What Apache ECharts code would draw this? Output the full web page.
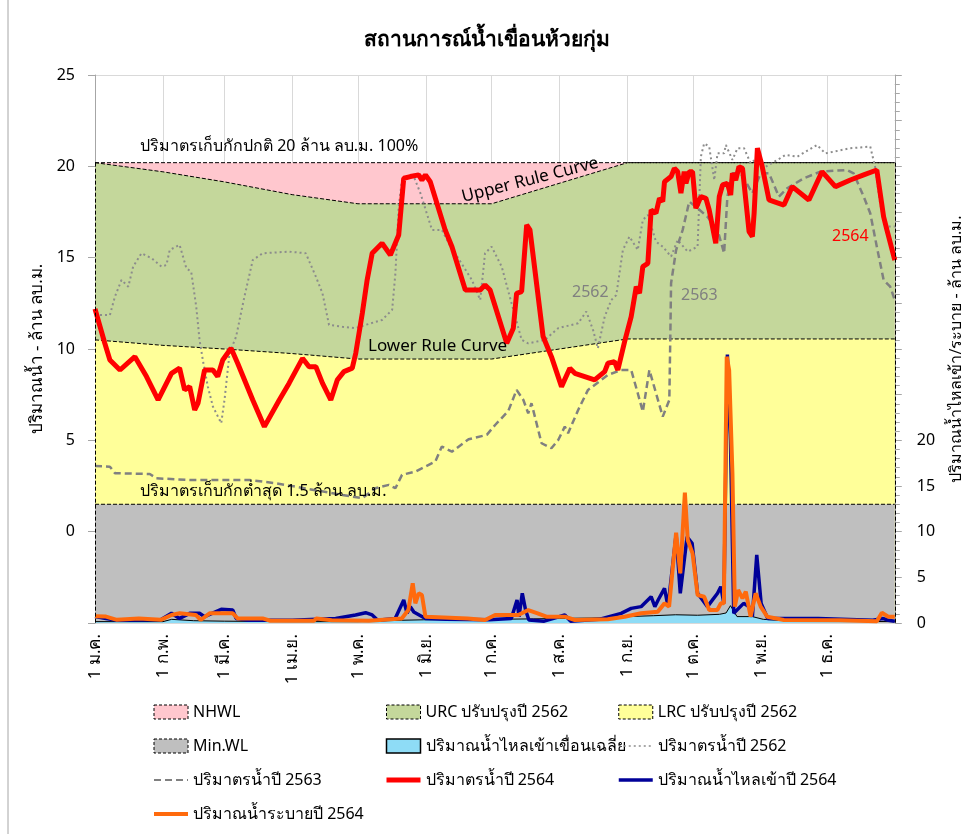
<!DOCTYPE html>
<html>
<head>
<meta charset="utf-8">
<title>สถานการณ์น้ำเขื่อนห้วยกุ่ม</title>
<script src="https://cdn.jsdelivr.net/npm/echarts@6.0.0/dist/echarts.min.js"></script>
<style>
  html, body { margin: 0; padding: 0; background: #fff; }
  #graph { width: 974px; height: 834px; }
</style>
</head>
<body>
<div id="graph"></div>
<script>
// day of year (2564 = 2021) for the month ticks
var monthDays = [0, 31, 59, 90, 120, 151, 181, 212, 243, 273, 304, 334, 365];
var monthLabels = ['1 ม.ค.', '1 ก.พ.', '1 มี.ค.', '1 เม.ย.', '1 พ.ค.', '1 มิ.ย.', '1 ก.ค.',
  '1 ส.ค.', '1 ก.ย.', '1 ต.ค.', '1 พ.ย.', '1 ธ.ค.', ''];

// rule curves, million m3  [day, value]
var nhwl = [[0, 20.2], [365, 20.2]];
var urc = [[0, 20.2], [31, 19.7], [59, 19.15], [90, 18.45], [120, 17.95], [151, 17.95],
  [181, 17.95], [243, 20.2], [365, 20.2]];
var lrc = [[0, 10.5], [31, 10.2], [59, 10.0], [90, 9.75], [120, 9.45], [151, 9.45],
  [181, 9.45], [243, 10.55], [365, 10.55]];
var minWL = [[0, 1.5], [365, 1.5]];

// storage, million m3
var storage2562 = [[0, 11.86], [6.8, 11.86], [9.1, 12.87], [12.1, 13.78], [15.2, 13.41], [17.4, 14.51],
  [21.2, 15.24], [25.8, 14.97], [30.3, 14.51], [32.6, 14.6], [34.1, 15.42], [38.6, 15.7], [41.7, 14.42],
  [43.9, 14.23], [46.2, 12.32], [47.7, 10.5], [49.2, 9.4], [51.5, 7.94], [53.8, 6.85], [57.6, 5.94],
  [59.1, 7.21], [61.4, 9.77], [64.4, 10.68], [68.2, 12.87], [72, 14.87], [76.5, 15.24], [88.6, 15.33],
  [96.2, 15.24], [100.8, 13.96], [103.8, 13.05], [106.8, 11.32], [112.9, 11.22], [118.9, 11.14],
  [123.5, 11.32], [131, 11.59], [135.6, 12.14], [137.1, 14.15], [138.6, 17.79], [140.1, 19.25],
  [145.5, 19.44], [148.5, 18.53], [153.8, 16.52], [158.3, 16.52], [161.4, 15.79], [168.2, 14.51],
  [172, 13.78], [175.8, 12.68], [178, 15.24], [181, 15.6], [185.6, 14.51], [190.1, 12.5], [194.7, 10.5],
  [197.7, 10.31], [205.3, 10.5], [211.4, 11.14], [220.5, 11.41], [224.2, 12.05], [227.3, 11.04],
  [229.5, 10.04], [232.6, 11.77], [235.6, 12.68], [237.9, 12.95], [240.9, 15.42], [243.9, 16.15],
  [247.7, 15.42], [250, 17.06], [252.3, 17.34], [256, 15.88], [259.1, 15.6], [262.9, 15.06],
  [265.9, 15.97], [270.5, 15.33], [275, 15.6], [276.5, 20.53], [278, 21.26], [280.3, 21.08],
  [282.6, 19.25], [284.1, 20.71], [287.1, 20.71], [287.9, 21.17], [290.9, 20.35], [293.2, 20.99],
  [296.2, 20.99], [299.2, 20.17], [303, 20.53], [306, 19.98], [311.4, 20.35], [315.1, 20.62],
  [320.5, 20.53], [329.5, 21.17], [333.3, 20.71], [344.7, 20.99], [353.8, 21.08], [356, 19.98],
  [358.3, 17.97], [360.6, 16.7], [365, 16.7]];

var storage2563 = [[0, 3.6], [6.8, 3.56], [9.1, 3.2], [25, 3.16], [28, 2.92], [43.2, 2.83], [70.5, 2.83],
  [82.6, 2.65], [112.9, 2.01], [122, 1.83], [128, 2.38], [134.1, 2.56], [137.1, 2.38], [140.1, 3.11],
  [146.2, 3.29], [155.3, 3.84], [158.3, 4.66], [162.9, 4.38], [170.5, 5.06], [178.8, 5.3], [182.6, 5.84],
  [188.6, 6.6], [192.4, 7.76], [195.5, 7.21], [197.7, 6.48], [199.2, 7.03], [203.8, 4.84], [208.3, 4.57],
  [211.4, 5.02], [214.4, 5.75], [215.9, 5.39], [220.5, 6.66], [225, 7.76], [234.1, 8.58], [240.1, 8.85],
  [244.7, 8.85], [247.7, 7.58], [250, 6.57], [253, 8.85], [259.1, 6.3], [262.1, 7.21], [262.6, 11.04],
  [262.9, 13.6], [265.2, 15.42], [268.2, 16.52], [271.2, 18.07], [274.2, 17.79], [279.5, 17.24],
  [284.1, 16.52], [287.1, 15.24], [288.6, 18.34], [290.9, 19.62], [294.7, 19.62], [300, 18.53],
  [303.8, 19.62], [307.6, 19.62], [312.1, 18.34], [315.9, 18.8], [323.5, 19.35], [331.1, 19.71],
  [343.2, 19.8], [346.2, 19.62], [350.8, 18.34], [353.8, 17.43], [356.8, 15.6], [359.9, 13.78],
  [362.9, 13.41], [365, 12.68]];

var storage2564 = [[0, 12.2], [4.5, 10.3], [6.8, 9.4], [11.4, 8.85], [18.2, 9.58], [23.5, 8.49], [28.8, 7.21],
  [34.9, 8.67], [38.6, 8.95], [40.9, 7.76], [43.2, 7.94], [45.5, 6.66], [47, 7.03], [50, 8.85], [53.8, 8.85],
  [56, 8.49], [58.3, 9.4], [62.1, 10.04], [65.1, 9.22], [72, 7.21], [77.3, 5.75], [84.1, 7.21], [88.6, 8.13],
  [94.7, 9.49], [97.7, 9.03], [100.8, 9.03], [103.8, 8.13], [107.6, 7.21], [110.6, 8.31], [113.6, 8.76],
  [117.4, 8.95], [119, 9.77], [122, 11.96], [124.2, 13.78], [126.5, 15.24], [131, 15.79], [134.8, 15.15],
  [138.6, 16.24], [140.9, 19.35], [143.9, 19.44], [147.7, 19.53], [149.2, 19.25], [150.8, 19.53],
  [153, 19.16], [159.8, 16.52], [162.9, 15.6], [169, 13.23], [175.8, 13.23], [178, 13.51], [180.3, 13.23],
  [187.9, 10.31], [190.9, 11.14], [192.4, 13.05], [194.7, 13.14], [197, 16.79], [198.5, 16.52],
  [204.5, 10.68], [208.3, 9.58], [212.9, 7.94], [216.7, 8.95], [219, 8.67], [228, 8.31], [232.6, 8.76],
  [234.1, 9.22], [237.1, 9.31], [238.6, 8.85], [241.7, 10.4], [244.7, 11.77], [247, 13.41], [248.5, 13.05],
  [250, 14.51], [252.3, 14.69], [253.8, 17.61], [256, 17.43], [257.6, 18.25], [259.1, 18.07],
  [259.9, 19.16], [262.9, 19.44], [264.4, 19.89], [265.9, 19.71], [267.4, 18.53], [268.9, 19.71],
  [269.7, 19.07], [271.2, 19.71], [272.7, 19.71], [274.2, 17.7], [276.5, 18.34], [278.8, 18.25],
  [280.3, 17.61], [283.3, 15.79], [284.9, 18.34], [286.4, 18.98], [288.6, 19.07], [290.1, 18.43],
  [290.9, 19.62], [292.4, 19.25], [293.9, 19.98], [295.5, 19.89], [297, 18.16], [298.5, 16.42],
  [300, 16.15], [300.8, 17.43], [302.3, 20.99], [304.5, 19.98], [307.6, 18.16], [309.8, 18.07],
  [314.4, 17.88], [318.2, 18.89], [325.8, 18.16], [331.8, 19.71], [337.9, 18.89], [344.7, 19.25],
  [350.8, 19.53], [356.8, 19.8], [359.9, 17.24], [361.4, 16.52], [365, 14.87]];

// flows, right axis
var inflowAvg = [[0, 0.15], [31, 0.15], [35, 0.4], [45, 0.25], [59, 0.2], [90, 0.15], [120, 0.15],
  [140, 0.3], [150, 0.35], [181, 0.4], [200, 0.45], [212, 0.5], [230, 0.55], [243, 0.7], [255, 0.8],
  [265, 0.9], [275, 0.85], [285, 0.95], [288, 1.1], [290, 1.9], [293, 0.7], [300, 0.7], [305, 0.4],
  [315, 0.25], [334, 0.2], [365, 0.15]];

var inflow2564 = [[0, 0.7], [5, 0.5], [10, 0.3], [30, 0.35], [34.9, 1.06], [38.6, 0.5], [43.2, 1.06],
  [47.7, 1.06], [50, 0.69], [57.6, 1.5], [62.9, 1.42], [64.4, 0.5], [70, 0.3], [90, 0.3], [109.8, 0.5],
  [118.9, 0.88], [123.5, 1.13], [126.5, 0.88], [129, 0.3], [137, 0.5], [140.9, 2.52], [142.4, 1.06],
  [143.9, 1.79], [145.5, 1.2], [150.8, 0.5], [160, 0.4], [180, 0.35], [190, 0.5], [192.6, 2.52],
  [193.5, 0.69], [195, 3.25], [196.5, 1.42], [198, 0.33], [205, 0.2], [214.4, 0.88], [217, 0.2],
  [230, 0.4], [240.1, 1.06], [244.7, 1.6], [249.2, 1.79], [253.8, 2.88], [255.5, 1.79], [257, 2.52],
  [259.9, 3.8], [261.5, 1.79], [265.2, 9.7], [267.1, 3.25], [270.2, 9.45], [272.5, 8.73], [275, 3.25],
  [279.5, 1.79], [284.1, 3.25], [285.6, 3.98], [287, 2.15], [288.6, 29.4], [290, 20], [291.5, 1.06],
  [296, 2.15], [298.5, 1.79], [300, 0.69], [302, 7.45], [304, 2.15], [307, 0.5], [330, 0.5], [355, 0.3],
  [359.5, 0.5], [362, 0.3], [365, 0.2]];

var release2564 = [[0, 0.75], [5, 0.7], [10, 0.35], [20, 0.5], [30, 0.35], [34.9, 0.88], [38.6, 1.06],
  [46, 0.88], [48.2, 0.33], [52.3, 1.06], [62.9, 1.06], [65.1, 0.5], [76.5, 0.5], [80, 0.25], [100, 0.25],
  [101, 0.5], [108, 0.3], [125, 0.25], [140, 0.5], [143, 1.42], [145, 4.34], [146.2, 2.15], [147.7, 3.25],
  [149.2, 3.07], [150.8, 0.69], [170, 0.5], [178, 0.33], [182.6, 0.88], [190, 0.88], [193.2, 0.88],
  [197.7, 1.42], [202, 1.06], [206, 0.69], [214.4, 0.69], [219, 0.33], [234, 0.4], [241.7, 0.69],
  [249.2, 1.06], [256.8, 1.24], [259.9, 2.15], [262, 1.79], [265.2, 9.89], [267.1, 5.44], [269.2, 14.27],
  [270.5, 9.09], [272.7, 7.63], [275, 3.07], [278, 2.88], [280.3, 1.42], [284, 1.42], [285.6, 2.15],
  [287, 2.15], [288.3, 29.16], [289.4, 27.7], [290.9, 16.39], [292, 1.79], [293.5, 3.61], [295.5, 2.7],
  [297, 3.43], [299.2, 0.69], [301.5, 3.25], [303.8, 1.79], [306.8, 0.69], [314.4, 0.33], [340, 0.3],
  [356.8, 0.2], [359.1, 1.13], [362, 0.69], [365, 0.69]];

var FONT = 'Tahoma, "Noto Sans", sans-serif';

var dom = document.getElementById('graph');
var myChart = echarts.init(dom);

function areaSeries(name, data, fill) {
  return {
    name: name,
    type: 'line',
    data: data,
    symbol: 'none',
    yAxisIndex: 0,
    lineStyle: { color: '#000', width: 1, type: [4, 2] },
    itemStyle: { color: fill },
    areaStyle: { color: fill, opacity: 1, origin: 'start' }
  };
}

function rectLegend(name, fill) {
  return {
    name: name,
    icon: 'rect',
    itemStyle: { color: fill, borderColor: '#000', borderWidth: 1, borderType: [3, 2] }
  };
}

// line legend entry without the round marker
function lineLegend(name, width) {
  return { name: name, lineStyle: { width: width }, itemStyle: { opacity: 0 } };
}

function note(text, left, top, color, size) {
  return {
    type: 'text', silent: true, z: 100, left: left, top: top,
    style: { text: text, fontSize: size, fontFamily: FONT, fill: color }
  };
}

var minWLSeries = areaSeries('Min.WL', minWL, '#BFBFBF');
minWLSeries.markLine = {
  silent: true,
  symbol: 'none',
  label: { show: false },
  lineStyle: { color: '#000', width: 1, type: [4, 2] },
  data: [
    [{ coord: [monthDays[0], nhwl[0][1]] }, { coord: [monthDays[0], -5] }],
    [{ coord: [monthDays[12], nhwl[1][1]] }, { coord: [monthDays[12], -5] }]
  ]
};

var legendText = { color: '#000', fontSize: 16, fontFamily: FONT };
var legendBase = { orient: 'vertical', top: 704, padding: 0, itemGap: 18, itemWidth: 34, itemHeight: 14,
  textStyle: legendText, selectedMode: false };

var option = {
  animation: false,
  textStyle: { fontFamily: FONT },
  title: {
    text: 'สถานการณ์น้ำเขื่อนห้วยกุ่ม',
    left: 'center',
    top: 25,
    textStyle: { fontSize: 21, fontWeight: 'bold', color: '#000', fontFamily: FONT }
  },
  legend: [Object.assign({}, legendBase, {
    left: 152,
    data: [rectLegend('NHWL', '#FFC7CE'), rectLegend('Min.WL', '#BFBFBF'),
      lineLegend('ปริมาตรน้ำปี 2563', 2),
      lineLegend('ปริมาณน้ำระบายปี 2564', 4)]
  }), Object.assign({}, legendBase, {
    left: 384,
    data: [rectLegend('URC ปรับปรุงปี 2562', '#C4D79B'),
      { name: 'ปริมาณน้ำไหลเข้าเขื่อนเฉลี่ย', icon: 'rect',
        itemStyle: { color: '#8EDCF6', borderColor: '#000', borderWidth: 1.5 } },
      lineLegend('ปริมาตรน้ำปี 2564', 5)]
  }), Object.assign({}, legendBase, {
    left: 617,
    data: [rectLegend('LRC ปรับปรุงปี 2562', '#FFFF99'),
      lineLegend('ปริมาตรน้ำปี 2562', 1.5),
      lineLegend('ปริมาณน้ำไหลเข้าปี 2564', 3.5)]
  })],
  grid: { left: 95, right: 76, top: 75, bottom: 211 },
  xAxis: {
    type: 'value',
    min: 0,
    max: 365,
    axisLine: { show: true, lineStyle: { color: '#A6A6A6' } },
    axisTick: { show: true, length: 5, customValues: monthDays, lineStyle: { color: '#A6A6A6' } },
    splitLine: { show: true, lineStyle: { color: '#D9D9D9' } },
    axisLabel: {
      customValues: monthDays.slice(0, 12),
      rotate: 90,
      margin: 11,
      fontSize: 17,
      color: '#000',
      formatter: function (v) {
        var i = monthDays.indexOf(v);
        return i >= 0 ? monthLabels[i] : '';
      }
    }
  },
  yAxis: [{
    type: 'value',
    min: -5,
    max: 25,
    interval: 5,
    name: 'ปริมาณน้ำ - ล้าน ลบ.ม.',
    nameLocation: 'middle',
    nameRotate: 90,
    nameGap: 46,
    nameTextStyle: { fontSize: 17, color: '#000' },
    axisLine: { show: true, lineStyle: { color: '#A6A6A6' } },
    axisTick: { show: true, length: 7, lineStyle: { color: '#A6A6A6' } },
    splitLine: { show: true, lineStyle: { color: '#D9D9D9' } },
    axisLabel: {
      fontSize: 16, color: '#000', margin: 20,
      formatter: function (v) { return v < 0 ? '' : v; }
    }
  }, {
    type: 'value',
    min: 0,
    max: 60,
    interval: 5,
    position: 'right',
    name: 'ปริมาณน้ำไหลเข้า/ระบาย - ล้าน ลบ.ม.',
    nameLocation: 'middle',
    nameRotate: 90,
    nameGap: 50,
    nameTextStyle: { fontSize: 16, color: '#000', backgroundColor: '#fff', padding: [2, 4] },
    axisLine: { show: true, lineStyle: { color: '#A6A6A6' } },
    axisTick: { show: true, length: 7, lineStyle: { color: '#A6A6A6' } },
    minorTick: { show: true, splitNumber: 5, length: 5, lineStyle: { color: '#A6A6A6' } },
    splitLine: { show: false },
    axisLabel: {
      fontSize: 16, color: '#000', margin: 22,
      formatter: function (v) { return v <= 20 ? v : ''; }
    }
  }],
  series: [
    areaSeries('NHWL', nhwl, '#FFC7CE'),
    areaSeries('URC ปรับปรุงปี 2562', urc, '#C4D79B'),
    areaSeries('LRC ปรับปรุงปี 2562', lrc, '#FFFF99'),
    minWLSeries,
    {
      name: 'ปริมาณน้ำไหลเข้าเขื่อนเฉลี่ย',
      type: 'line',
      yAxisIndex: 1,
      data: inflowAvg,
      symbol: 'none',
      lineStyle: { color: '#000', width: 1 },
      itemStyle: { color: '#8EDCF6' },
      areaStyle: { color: '#8EDCF6', opacity: 1, origin: 'start' }
    },
    {
      name: 'ปริมาตรน้ำปี 2562',
      type: 'line',
      yAxisIndex: 0,
      data: storage2562,
      symbol: 'none',
      itemStyle: { color: '#8C8C8C' },
      lineStyle: { color: '#8C8C8C', width: 2, type: [2, 3] }
    },
    {
      name: 'ปริมาตรน้ำปี 2563',
      type: 'line',
      yAxisIndex: 0,
      data: storage2563,
      symbol: 'none',
      itemStyle: { color: '#808080' },
      lineStyle: { color: '#808080', width: 2.5, type: [7, 4] }
    },
    {
      name: 'ปริมาตรน้ำปี 2564',
      type: 'line',
      yAxisIndex: 0,
      data: storage2564,
      symbol: 'none',
      itemStyle: { color: '#FF0000' },
      lineStyle: { color: '#FF0000', width: 5 }
    },
    {
      name: 'ปริมาณน้ำไหลเข้าปี 2564',
      type: 'line',
      yAxisIndex: 1,
      data: inflow2564,
      symbol: 'none',
      itemStyle: { color: '#000099' },
      lineStyle: { color: '#000099', width: 3.5 }
    },
    {
      name: 'ปริมาณน้ำระบายปี 2564',
      type: 'line',
      yAxisIndex: 1,
      data: release2564,
      symbol: 'none',
      itemStyle: { color: '#FF6A0D' },
      lineStyle: { color: '#FF6A0D', width: 4 }
    }
  ],
  graphic: [
    { type: 'line', silent: true, z: 100, shape: { x1: 8, y1: 0, x2: 8, y2: 834 }, style: { stroke: '#A6A6A6', lineWidth: 1 } },
    note('ปริมาตรเก็บกักปกติ 20 ล้าน ลบ.ม. 100%', 140, 138, '#000', 16),
    note('ปริมาตรเก็บกักต่ำสุด 1.5 ล้าน ลบ.ม.', 140, 483, '#000', 16),
    {
      type: 'text', silent: true, z: 100, x: 530, y: 180, rotation: 0.25,
      style: { text: 'Upper Rule Curve', fontSize: 17, fontFamily: FONT, fill: '#000', align: 'center', verticalAlign: 'middle' }
    },
    note('Lower Rule Curve', 368, 338, '#000', 17),
    note('2562', 572, 284, '#808080', 16),
    note('2563', 681, 287, '#808080', 16),
    note('2564', 832, 228, '#FF0000', 16)
  ]
};

if (option && typeof option === 'object') {
  myChart.setOption(option, true);
}
</script>
</body>
</html>
